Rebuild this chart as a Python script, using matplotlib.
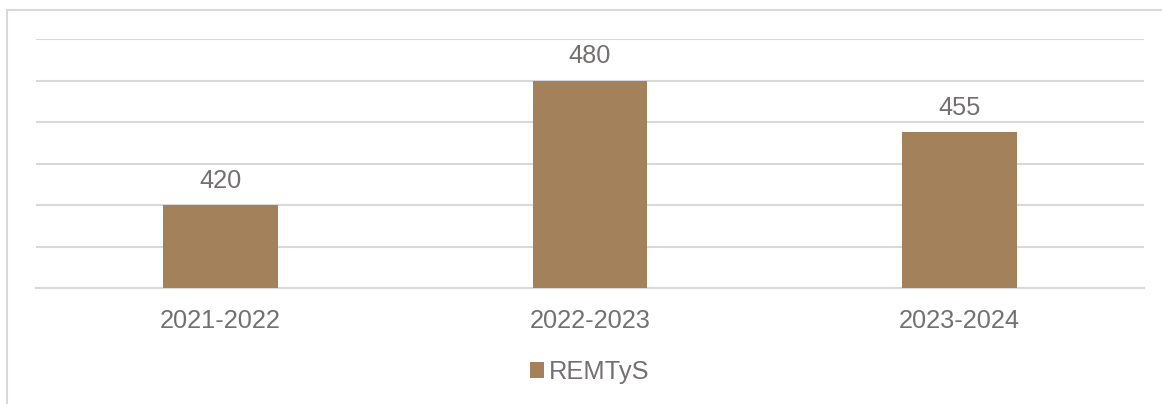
import matplotlib.pyplot as plt
from matplotlib.patches import Rectangle

periods = ['2021-2022', '2022-2023', '2023-2024']
remtys = [420, 480, 455]
series_name = 'REMTyS'

bar_color = '#A3815B'
text_color = '#747070'
grid_color = '#D9D9D9'

plt.rcParams['font.family'] = ['Liberation Sans', 'DejaVu Sans']

fig = plt.figure(figsize=(11.62, 4.04), dpi=100)
ax = fig.add_axes([36 / 1162, 116 / 404, 1108 / 1162, 249 / 404])

bars = ax.bar(range(len(periods)), remtys, width=0.31, color=bar_color,
              label=series_name, zorder=3)
for b, v in zip(bars, remtys):
    ax.annotate(str(v), (b.get_x() + b.get_width() / 2, v), xytext=(0, 9),
                textcoords='offset points', ha='center', va='bottom',
                fontsize=18.3, color=text_color)

ax.set_xlim(-0.5, 2.5)
ax.set_ylim(380, 500)
ax.set_yticks(range(380, 501, 20))
ax.yaxis.grid(True, color=grid_color, linewidth=1.5, zorder=0)
ax.tick_params(axis='y', left=False, labelleft=False)
ax.tick_params(axis='x', length=0, pad=15, labelsize=18.3, labelcolor=text_color)
ax.set_xticks(range(len(periods)))
ax.set_xticklabels(periods)
for s in ['top', 'right', 'left']:
    ax.spines[s].set_visible(False)
ax.spines['bottom'].set_color(grid_color)
ax.spines['bottom'].set_linewidth(1.5)

leg = fig.legend(loc='center', bbox_to_anchor=(590 / 1162, 1 - 372 / 404),
                 frameon=False, fontsize=18.3, handlelength=0.55, handleheight=0.55,
                 handletextpad=0.2, labelcolor=text_color)

# outer chart frame (open on the right and bottom edges)
fig.patches.append(Rectangle((7 / 1162, -0.1), 1.2, 1 - 9.5 / 404 + 0.1,
                             transform=fig.transFigure, fill=False,
                             edgecolor=grid_color, linewidth=1.5))

fig.savefig('out.png', dpi=100)
